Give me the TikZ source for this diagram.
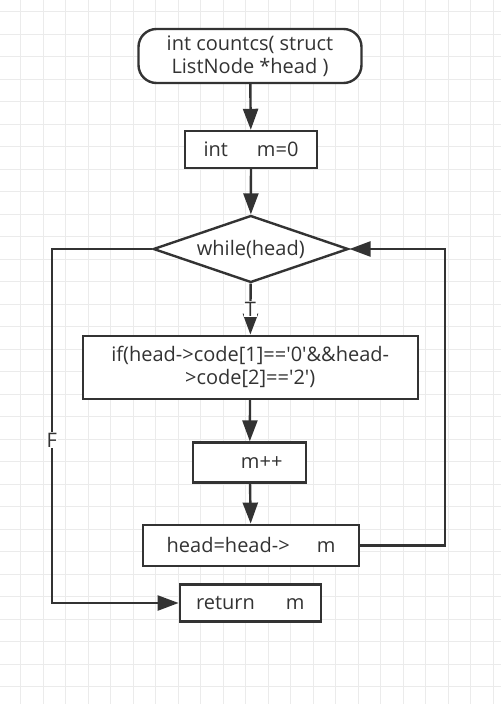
\documentclass[tikz,border=0pt]{standalone}
\usepackage{fontspec}
\setmainfont{Open Sans}[Ligatures=TeXOff]
\usetikzlibrary{arrows.meta,shapes.geometric}
\definecolor{ink}{HTML}{333333}
\definecolor{gridc}{HTML}{EBEBEB}
\begin{document}
\begin{tikzpicture}[x=1pt,y=-1pt,
  txt/.style={font=\fontsize{20}{23}\selectfont, text=ink, align=center},
  procbox/.style={txt, draw=ink, line width=2.4pt, fill=white, inner sep=0pt},
  flow/.style={draw=ink, line width=2.4pt, -{Triangle[length=21pt,width=15pt]}},
  lbl/.style={txt, fill=white, inner sep=1pt}]
\useasboundingbox (0,0) rectangle (501,704);
\fill[white] (0,0) rectangle (501,704);
\foreach \i in {0,...,21} \draw[gridc, line width=1.2pt] ({20.7+22.5*\i},0) -- ({20.7+22.5*\i},704);
\foreach \j in {0,...,30} \draw[gridc, line width=1.2pt] (0,{11.7+22.5*\j}) -- (501,{11.7+22.5*\j});

\node[procbox, rounded corners=18pt, minimum width=223pt, minimum height=54pt] (start) at (250,56) {int countcs( struct\\ListNode *head )};
\node[procbox, minimum width=132pt, minimum height=37pt] (init) at (251,149.5) {int\hspace{29pt}m=0};
\node[txt, diamond, draw=ink, line width=2.4pt, fill=white, inner sep=0pt, shape aspect=2.9, minimum width=195pt, minimum height=67pt] (loop) at (250.8,249) {while(head)};
\node[procbox, minimum width=335pt, minimum height=63pt] (cond) at (250.2,367.3) {if(head->code[1]=='0'\&\&head-\\>code[2]=='2')};
\node[procbox, minimum width=113pt, minimum height=40pt] (inc) at (249.7,462.5) {\hspace*{24pt}m++};
\node[procbox, minimum width=216pt, minimum height=41pt] (next) at (251,545.3) {head=head->\hspace{27pt}m};
\node[procbox, minimum width=141pt, minimum height=37pt] (ret) at (250.3,603) {return\hspace{31pt}m};

\coordinate (lx) at (445,0);
\coordinate (fx) at (51.7,0);

\draw[flow] (start) -- (init);
\draw[flow] (init) -- (loop);
\draw[flow] (loop) -- node[lbl, pos=0.5] (T) {T} (cond);
\draw[flow] (cond) -- (inc);
\draw[flow] (inc) -- (next);
\draw[flow] (next.east) -- (next.east -| lx) -- (loop.east -| lx) -- (loop.east);
\draw[flow] (loop.west) -- (loop.west -| fx) -- (ret.west -| fx) -- (ret.west);
\node[lbl] (F) at (51.7,440) {F};
\end{tikzpicture}
\end{document}
